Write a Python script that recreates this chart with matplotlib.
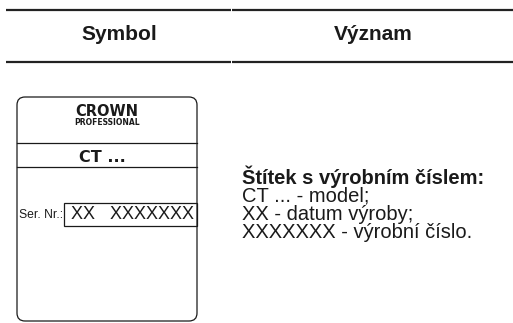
import matplotlib
matplotlib.use("Agg")
import matplotlib.pyplot as plt
from matplotlib.patches import FancyBboxPatch, Rectangle

# table content
headers = ["Symbol", "Význam"]
meaning_title = "Štítek s výrobním číslem:"
meaning_lines = ["CT ... - model;", "XX - datum výroby;", "XXXXXXX - výrobní číslo."]
brand = "CROWN"
brand_sub = "PROFESSIONAL"
model = "CT ..."
serial_label = "Ser. Nr.:"
serial_value = "XX   XXXXXXX"

W, H = 513, 323
fig = plt.figure(figsize=(W / 100, H / 100), dpi=100)
ax = fig.add_axes([0, 0, 1, 1])
ax.set_xlim(0, W)
ax.set_ylim(H, 0)
ax.axis("off")

plt.rcParams['font.family'] = ['Liberation Sans', 'DejaVu Sans']
ink = "#1a1a1a"

# header rules
for y in (9.5, 61.5):
    ax.plot([6, 231], [y, y], color="#222222", lw=1.6, solid_capstyle="butt")
    ax.plot([232, 513], [y, y], color="#222222", lw=1.6, solid_capstyle="butt")

ax.text(119, 35, headers[0], ha="center", va="center", fontsize=15, fontweight="bold", color=ink)
ax.text(373, 35, headers[1], ha="center", va="center", fontsize=15, fontweight="bold", color=ink)

# label drawing
box = FancyBboxPatch((17, 97), 180, 224, boxstyle="round,pad=0,rounding_size=8",
                     fill=False, ec=ink, lw=0.9)
ax.add_patch(box)
ax.plot([17, 197], [143, 143], color=ink, lw=0.9)
ax.plot([17, 197], [167, 167], color=ink, lw=0.9)
ax.add_patch(Rectangle((64, 202.5), 133, 23, fill=False, ec=ink, lw=0.9))

ax.text(107, 112, brand, ha="center", va="center", fontsize=10.5, fontweight="bold",
        family="DejaVu Sans", color=ink)
ax.text(107, 122.5, brand_sub, ha="center", va="center", fontsize=5.5, fontweight="bold",
        family="DejaVu Sans", color=ink)
ax.text(102, 157, model, ha="center", va="center", fontsize=11.5, fontweight="bold",
        family="DejaVu Sans", color=ink)
ax.text(19, 214.5, serial_label, ha="left", va="center", fontsize=8.7, color=ink)
ax.text(71, 214.5, serial_value, ha="left", va="center", fontsize=13, color=ink)

# meaning text
ax.text(242, 184, meaning_title, ha="left", va="baseline", fontsize=14.5, fontweight="bold", color=ink)
for i, line in enumerate(meaning_lines):
    ax.text(242, 202 + i * 18, line, ha="left", va="baseline", fontsize=14.5, color=ink)

fig.savefig("out.png", dpi=100)
